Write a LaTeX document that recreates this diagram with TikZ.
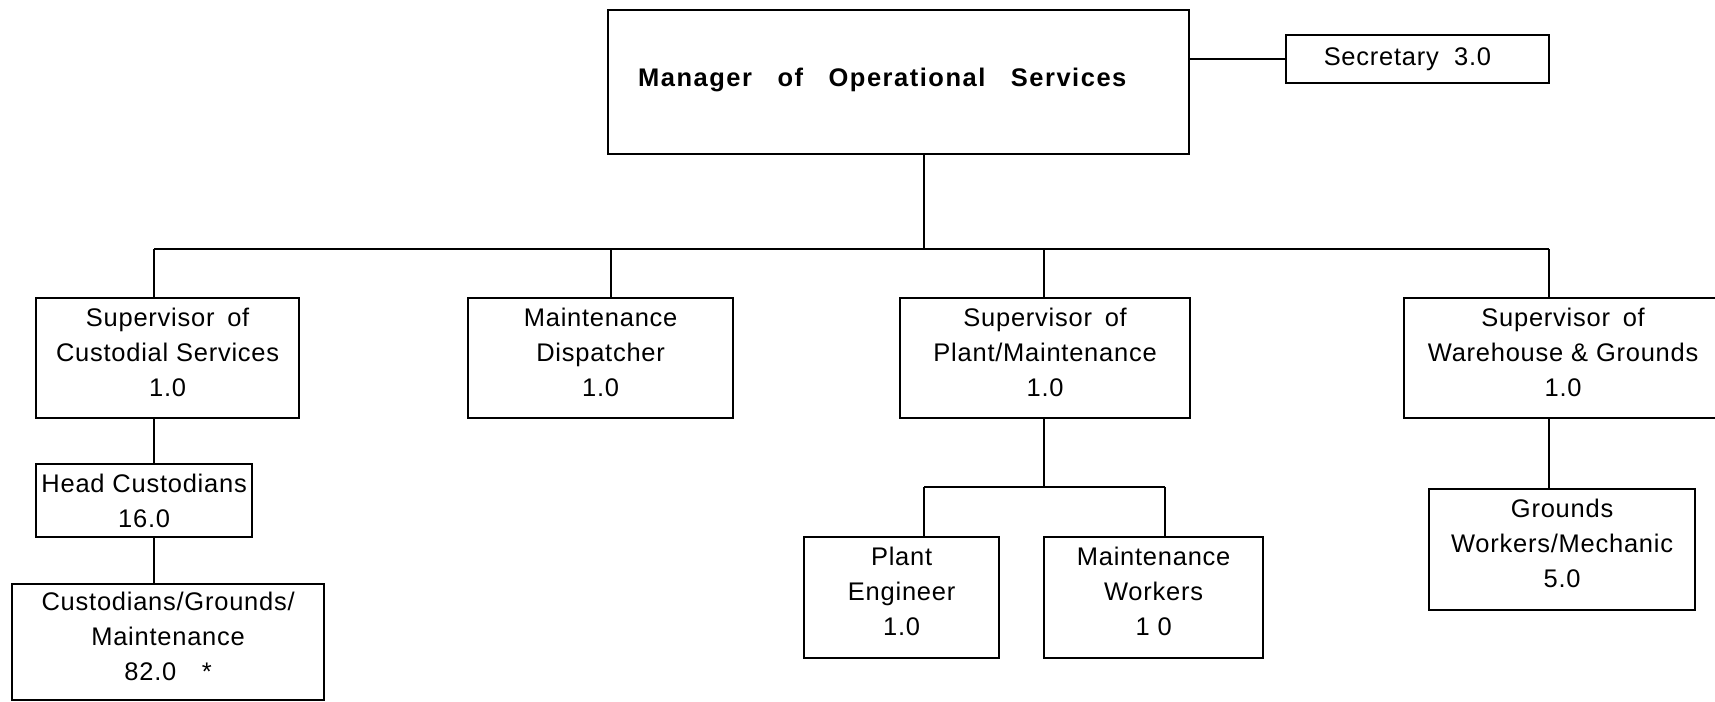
\documentclass[tikz,border=0pt]{standalone}
\usepackage{fontspec}
\setmainfont{Liberation Sans}[LetterSpace=3]
\newfontfamily\mgrfont{Liberation Sans}[LetterSpace=6]
\tikzset{
  box/.style={draw, line width=1.3pt, align=center, inner sep=0pt, anchor=north west,
    font=\fontsize{14.5}{20}\selectfont},
  lift/.style={execute at end node={\rule[-7pt]{0pt}{0pt}}},
  link/.style={line width=1.1pt}
}
\begin{document}
\begin{tikzpicture}[x=0.02cm, y=-0.02cm]
\useasboundingbox (0,0) rectangle (1715,702);
\node[box, align=left, text width=10.42cm, inner xsep=0.6cm, text height=1.52cm, text depth=1.36cm,
  font=\fontsize{14.5}{20}\mgrfont\bfseries] (mgr) at (607,9) {Manager\hskip1em of\hskip1em Operational\hskip1em Services};
\node[box, minimum width=5.26cm, minimum height=0.96cm] (sec) at (1285,34) {Secretary\hskip0.6em 3.0\hskip0.8em};
\node[box, lift, minimum width=5.26cm, minimum height=2.4cm] (cust) at (35,297) {Supervisor\hskip0.5em of\\Custodial Services\\1.0};
\node[box, lift, minimum width=5.3cm, minimum height=2.4cm] (disp) at (467,297) {Maintenance\\Dispatcher\\1.0};
\node[box, lift, minimum width=5.8cm, minimum height=2.4cm] (plant) at (899,297) {Supervisor\hskip0.5em of\\Plant/Maintenance\\1.0};
\node[box, lift, minimum width=6.36cm, minimum height=2.4cm] (ware) at (1403,297) {Supervisor\hskip0.5em of\\Warehouse \& Grounds\\1.0};
\node[box, minimum width=4.32cm, minimum height=1.46cm] (head) at (35,463) {Head Custodians\\16.0};
\node[box, lift, minimum width=6.24cm, minimum height=2.32cm] (cgm) at (11,583) {Custodians/Grounds/\\Maintenance\\82.0\quad *};
\node[box, lift, minimum width=3.9cm, minimum height=2.42cm] (eng) at (803,536) {Plant\\Engineer\\1.0};
\node[box, lift, minimum width=4.38cm, minimum height=2.42cm] (mwork) at (1043,536) {Maintenance\\Workers\\1 0};
\node[box, lift, minimum width=5.32cm, minimum height=2.42cm] (gwm) at (1428,488) {Grounds\\Workers/Mechanic\\5.0};
% bus lines
\coordinate (busL) at (154,249);
\coordinate (busR) at (1549,249);
\coordinate (mdrop) at (924,249);
\coordinate (ddrop) at (611,249);
\coordinate (pdrop) at (1044,249);
\coordinate (pbusL) at (924,487);
\coordinate (pbusR) at (1165,487);
\draw[link] (mgr.east |- sec.west) -- (sec.west);
\draw[link] (mdrop |- mgr.south) -- (mdrop);
\draw[link] (busL) -- (busR);
\draw[link] (busL) -- (busL |- cust.north);
\draw[link] (ddrop) -- (ddrop |- disp.north);
\draw[link] (pdrop) -- (pdrop |- plant.north);
\draw[link] (busR) -- (busR |- ware.north);
\draw[link] (busL |- cust.south) -- (busL |- head.north);
\draw[link] (busL |- head.south) -- (busL |- cgm.north);
\draw[link] (pdrop |- plant.south) -- (pdrop |- pbusL);
\draw[link] (pbusL) -- (pbusR);
\draw[link] (pbusL) -- (pbusL |- eng.north);
\draw[link] (pbusR) -- (pbusR |- mwork.north);
\draw[link] (busR |- ware.south) -- (busR |- gwm.north);
\end{tikzpicture}
\end{document}
